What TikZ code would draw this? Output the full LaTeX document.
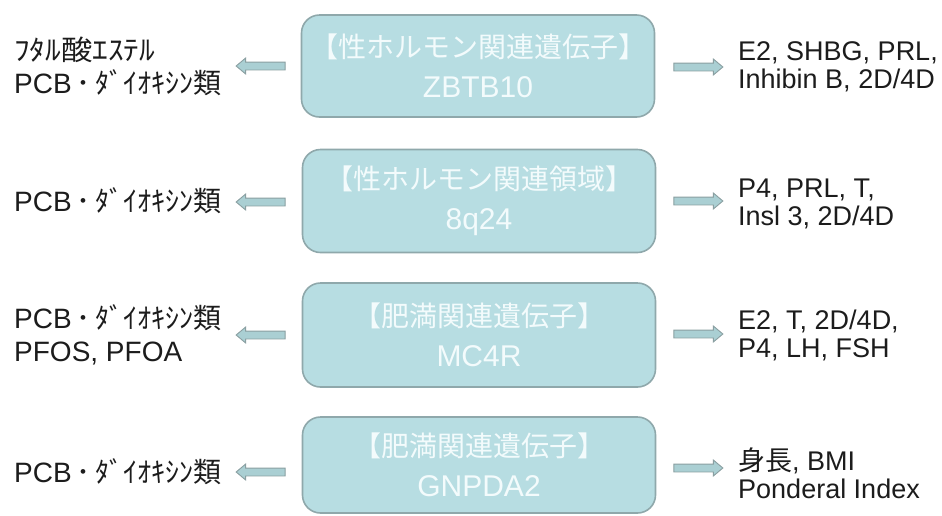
\documentclass[tikz,border=0pt]{standalone}
\usepackage{fontspec}
\usepackage{graphicx}
\setmainfont{Liberation Sans}
\newfontfamily\jp{Noto Sans CJK JP}
\usetikzlibrary{shapes.arrows}
\definecolor{boxfill}{HTML}{B7DDE2}
\definecolor{boxline}{HTML}{8FA8AB}
\definecolor{boxtext}{HTML}{F3FBFC}
\definecolor{arrfill}{HTML}{AACFD3}
\definecolor{arrline}{HTML}{8A9FA1}
\definecolor{ink}{HTML}{1C1C1C}
\tikzset{
  genebox/.style={draw=boxline, line width=1.6pt, fill=boxfill, rounded corners=18pt,
    minimum width=353pt, minimum height=102pt, text=boxtext, align=center, inner sep=0pt,
    font=\fontsize{28}{40}\selectfont},
  fatarrow/.style={single arrow, draw=arrline, line width=0.9pt, fill=arrfill,
    minimum height=49pt, minimum width=15pt, single arrow head extend=4pt,
    single arrow tip angle=80, inner xsep=0pt, inner ysep=3.5pt},
  larrow/.style={fatarrow, shape border rotate=180},
  rarrow/.style={fatarrow},
  lefttext/.style={anchor=west, align=left, text=ink, inner sep=0pt,
    font=\fontsize{28}{33}\selectfont},
  righttext/.style={anchor=west, align=left, text=ink, inner sep=0pt,
    font=\fontsize{27}{28}\selectfont}
}
\newcommand{\pcbdx}{PCB{\jp\,･\,ﾀﾞｲｵｷｼﾝ類}}
\begin{document}
\begin{tikzpicture}[x=1pt,y=-1pt]
\useasboundingbox[fill=white] (0,0) rectangle (942,515);

% gene boxes
\node[genebox] (b1) at (478,66) {{\jp 【性ホルモン関連遺伝子】}\\{\fontsize{30}{40}\selectfont ZBTB10}};
\node[genebox, minimum height=103pt] (b2) at (479,201) {{\jp 【性ホルモン関連領域】}\\{\fontsize{30}{40}\selectfont 8q24}};
\node[genebox, minimum height=104pt] (b3) at (479,335) {{\jp 【肥満関連遺伝子】}\\{\fontsize{30}{40}\selectfont MC4R}};
\node[genebox, minimum height=96pt] (b4) at (479,465) {{\jp 【肥満関連遺伝子】}\\{\fontsize{30}{40}\selectfont GNPDA2}};

% left texts
\node[lefttext] (l1) at (14,66) {{\jp\scalebox{1.12}[1]{ﾌﾀﾙ酸ｴｽﾃﾙ}}\\\pcbdx};
\node[lefttext] (l2) at (14,201) {\pcbdx};
\node[lefttext] (l3) at (14,335) {\pcbdx\\PFOS, PFOA};
\node[lefttext] (l4) at (14,472) {\pcbdx};

% right texts
\node[righttext] (r1) at (738,67) {E2, SHBG, PRL,\\Inhibin B, 2D/4D};
\node[righttext] (r2) at (738,204) {P4, PRL, T,\\Insl 3, 2D/4D};
\node[righttext] (r3) at (738,335) {E2, T, 2D/4D,\\P4, LH, FSH};
\node[righttext] (r4) at (738,473) {{\jp 身長}, BMI\\Ponderal Index};

% arrows
\node[larrow] (la1) at (263,66) {};
\node[larrow] (la2) at (263,202) {};
\node[larrow] (la3) at (263,335) {};
\node[larrow] (la4) at (263,472) {};
\node[rarrow] (ra1) at (696,67) {};
\node[rarrow] (ra2) at (696,201) {};
\node[rarrow] (ra3) at (696,334) {};
\node[rarrow] (ra4) at (696,468) {};
\end{tikzpicture}
\end{document}
